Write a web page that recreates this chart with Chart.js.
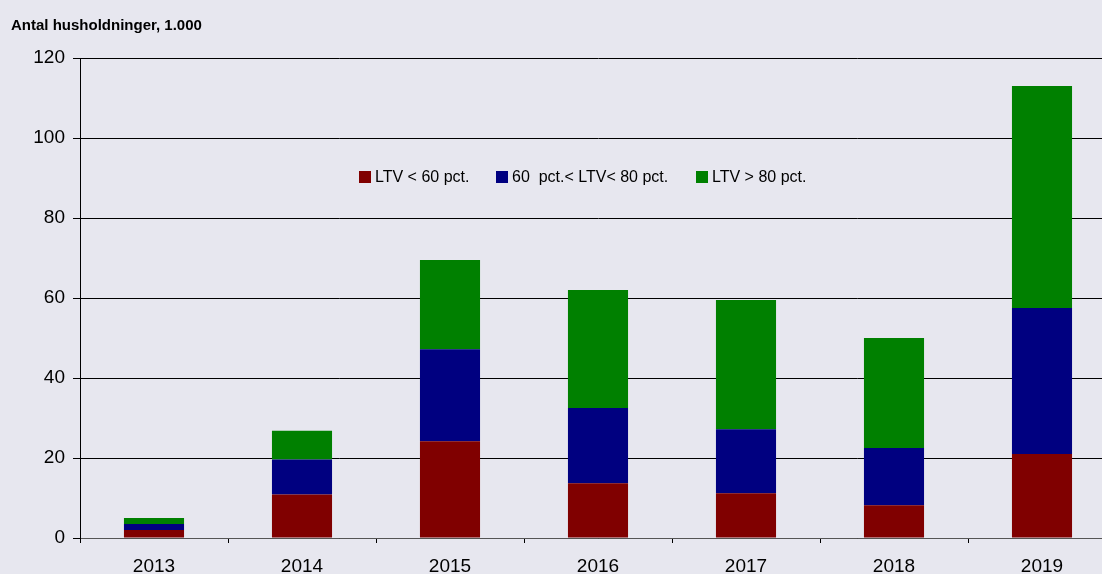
<!DOCTYPE html>
<html>
<head>
<meta charset="utf-8">
<script src="https://cdn.jsdelivr.net/npm/chart.js@4.4.0/dist/chart.umd.min.js"></script>
<style>
  html, body { margin: 0; padding: 0; background: #e7e7ef; overflow: hidden; }
  #wrap { position: relative; width: 1116px; height: 574px; }
</style>
</head>
<body>
<div id="wrap"><canvas id="c"></canvas></div>
<script>
const categories = ['2013', '2014', '2015', '2016', '2017', '2018', '2019'];
const ltvBelow60 = [2.0, 10.9, 24.2, 13.7, 11.2, 8.2, 21.0];
const ltv60to80 = [1.5, 8.7, 23.0, 18.8, 16.0, 14.3, 36.5];
const ltvAbove80 = [1.5, 7.2, 22.3, 29.5, 32.3, 27.5, 55.5];
const seriesLabels = ['LTV < 60 pct.', '60  pct.< LTV< 80 pct.', 'LTV > 80 pct.'];
const yTicks = [0, 20, 40, 60, 80, 100, 120];
const titleText = 'Antal husholdninger, 1.000';

const colors = ['#800000', '#000080', '#008000'];

const bgPlugin = {
  id: 'bg',
  beforeDraw(chart) {
    const ctx = chart.ctx;
    ctx.save();
    ctx.fillStyle = '#e7e7ef';
    ctx.fillRect(0, 0, chart.width, chart.height);
    ctx.restore();
  }
};

const overlayPlugin = {
  id: 'overlay',
  afterDraw(chart) {
    const ctx = chart.ctx;
    ctx.save();
    ctx.fillStyle = '#000';
    ctx.font = 'bold 15px "Liberation Sans", Arial, sans-serif';
    ctx.textBaseline = 'alphabetic';
    ctx.textAlign = 'left';
    ctx.fillText(titleText, 11, 30);
    // legend
    const xs = [359, 496, 696];
    ctx.font = '16px "Liberation Sans", Arial, sans-serif';
    chart.data.datasets.forEach((ds, i) => {
      ctx.fillStyle = ds.backgroundColor;
      ctx.fillRect(xs[i], 171, 12, 12);
      ctx.fillStyle = '#000';
      ctx.fillText(ds.label, xs[i] + 16, 182);
    });
    ctx.restore();
  }
};

new Chart(document.getElementById('c'), {
  type: 'bar',
  data: {
    labels: categories,
    datasets: [
      { label: seriesLabels[0], data: ltvBelow60, backgroundColor: colors[0] },
      { label: seriesLabels[1], data: ltv60to80, backgroundColor: colors[1] },
      { label: seriesLabels[2], data: ltvAbove80, backgroundColor: colors[2] }
    ]
  },
  options: {
    responsive: true,
    maintainAspectRatio: false,
    animation: false,
    datasets: { bar: { barPercentage: 0.406, categoryPercentage: 1.0, borderWidth: 0 } },
    layout: { padding: { top: 58, left: 0, right: 0, bottom: 0 } },
    plugins: { legend: { display: false }, tooltip: { enabled: false }, title: { display: false } },
    scales: {
      x: {
        stacked: true,
        grid: { display: true, drawOnChartArea: false, drawTicks: true, tickLength: 5, color: '#000', offset: true },
        border: { display: true, color: '#555', width: 1 },
        ticks: { color: '#000', font: { size: 19, family: '"Liberation Sans", Arial, sans-serif' }, padding: 12, maxRotation: 0 },
        afterFit(scale) { scale.height = 36; }
      },
      y: {
        stacked: true,
        min: 0, max: 120,
        afterBuildTicks(scale) { scale.ticks = yTicks.map(v => ({ value: v })); },
        grid: { color: '#000', lineWidth: 1, tickLength: 7, drawTicks: true },
        border: { display: true, color: '#000', width: 1 },
        ticks: { color: '#000', font: { size: 19, family: '"Liberation Sans", Arial, sans-serif' }, padding: 8 },
        afterFit(scale) { scale.width = 80; }
      }
    }
  },
  plugins: [bgPlugin, overlayPlugin]
});
</script>
</body>
</html>
